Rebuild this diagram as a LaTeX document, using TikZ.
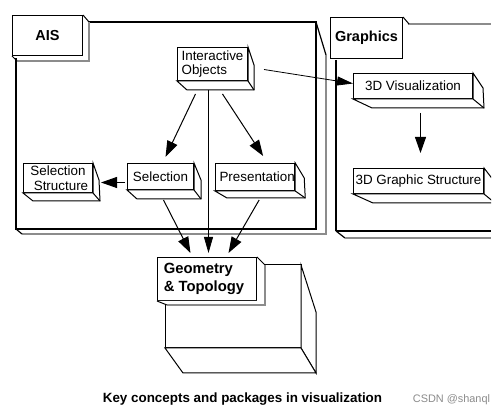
\documentclass[tikz,border=0pt]{standalone}
\usepackage{fontspec}
\setmainfont{Liberation Sans}
\usetikzlibrary{arrows.meta}
\tikzset{
  face/.style={draw, fill=white, line width=1pt, inner sep=0pt, anchor=north west,
    font=\fontsize{13.4}{14.5}\selectfont},
  tabface/.style={face, font=\bfseries\fontsize{14.5}{16}\selectfont},
  side/.style={draw, fill=white, line width=1pt, line join=miter},
  pk/.style={draw, line width=1.2pt},
  shade/.style={draw=black!45, line width=1.4pt},
  arr/.style={line width=1pt, -{Triangle[length=16pt,width=11pt]}},
  thinarr/.style={line width=0.8pt, -{Triangle[length=16pt,width=9pt]}},
}
% 3D sides of a box node: name, top dx, top dy, right dx, bottom dy, bottom-left dx
\newcommand\boxsides[6]{%
  \filldraw[side] (#1.north east) -- ++(#2,#3) -- ([shift={(#4,#5)}]#1.south east)
    -- ([shift={(#6,#5)}]#1.south west) -- (#1.south west) -- (#1.south east) -- cycle;
  \draw[line width=1pt] (#1.south east) -- ++(#4,#5);
}
\begin{document}
\begin{tikzpicture}[x=1pt,y=-1pt]
\useasboundingbox (0,0) rectangle (504,419);
\fill[white] (0,0) rectangle (504,419);

% ---------- AIS package ----------
\draw[pk] (88,22) -- (316,22) -- (316,229) -- (16,229) -- (16,58);
\draw[pk] (316,22) -- (326,55);
\draw[shade] (326,55) -- (326,234) -- (22,234);
\draw[pk] (16,229) -- (22,234);
\node[tabface, minimum width=70pt, minimum height=40pt] (ais) at (12,15) {AIS};
\draw[line width=1pt] (ais.north east) -- ++(6,7);
\draw[shade] ([shift={(6,7)}]ais.north east) -- ([shift={(6,5)}]ais.south east) -- ([shift={(5,5)}]ais.south west);
\draw[line width=1pt] (ais.south west) -- ++(5,5);

% ---------- Graphics package (cropped on the right) ----------
\begin{scope}
\clip (0,0) rectangle (491,419);
\draw[line width=2pt] (336,60) -- (336,231);
\draw[pk] (336,231) -- (491,231);
\draw[pk] (336,231) -- (345,238);
\draw[shade] (345,238) -- (491,238);
\draw[shade] (408,24) -- (491,24);
\node[tabface, minimum width=72pt, minimum height=41pt] (gfx) at (330,17) {Graphics};
\draw[line width=1pt] (gfx.north east) -- ++(6,7);

\node[face, minimum width=119pt, minimum height=25pt] (vis) at (353,73) {3D Visualization};
\boxsides{vis}{10}{15}{11}{9}{19}
\node[face, minimum width=130pt, minimum height=25pt] (gstr) at (353,168) {3D Graphic Structure};
\boxsides{gstr}{10}{13}{11}{9}{20}
\end{scope}

% ---------- AIS contents ----------
\node[face, minimum width=70pt, minimum height=33pt, align=left] (io) at (177,47) {Interactive\\Objects};
\boxsides{io}{6}{18}{6}{9}{10}
\node[face, minimum width=69pt, minimum height=29pt, align=center] (selS) at (23,163) {Selection\\\hspace*{6pt}Structure};
\boxsides{selS}{6}{17}{7}{8}{10}
\node[face, minimum width=66pt, minimum height=26pt] (sel) at (127,163) {Selection};
\boxsides{sel}{7}{17}{7}{9}{10}
\node[face, minimum width=78pt, minimum height=27pt] (pres) at (215,163) {\hspace*{4pt}Presentation};
\boxsides{pres}{9}{15}{10}{7}{12}

% ---------- Geometry & Topology ----------
\filldraw[side] (165,265) rectangle (301,348);
\filldraw[side] (301,265) -- (316,312) -- (316,373) -- (301,348) -- cycle;
\filldraw[side] (165,348) -- (301,348) -- (316,373) -- (183,373) -- cycle;
\node[face, font=\bfseries\fontsize{14.8}{18}\selectfont, minimum width=99pt, minimum height=43pt, align=left] (geo) at (157,257) {Geometry\\\& Topology\hspace*{6pt}};
\fill[white] (geo.north east) -- (265,265) -- (265,305) -- (167,305) -- (geo.south west) -- (geo.south east) -- cycle;
\draw[line width=1pt] (geo.north east) -- (265,265);
\draw[shade] (265,265) -- (265,305) -- (167,305);
\draw[line width=1pt] (geo.south west) -- (167,305);

% ---------- connectors ----------
\draw[arr] ([shift={(-17,13)}]io.south) -- ([shift={(5,-6)}]sel.north);
\draw[arr] ([shift={(10,13)}]io.south) -- ([shift={(8,-7)}]pres.north);
\path (io.south) ++(-4,0) coordinate (vtop);
\draw[thinarr] ([shift={(0,9)}]vtop) -- ([shift={(0,-4)}]vtop |- geo.north);
\draw[arr] ([shift={(3,10)}]sel.south) -- ([shift={(-16.5,-4)}]geo.north);
\draw[arr] ([shift={(4,9)}]pres.south) -- ([shift={(21.5,-4)}]geo.north);
\draw[arr] ([shift={(-2,6)}]sel.west) -- ([shift={(8,4.5)}]selS.east);
\draw[thinarr] ([shift={(16,5.5)}]io.east) -- ([shift={(0,-2.5)}]vis.west);
\path (vis.south) ++(7.5,0) coordinate (vbot);
\draw[arr] ([shift={(0,14)}]vbot) -- ([shift={(0,-15)}]vbot |- gstr.north);

% ---------- caption ----------
\node[font=\bfseries\fontsize{13.4}{16}\selectfont] (cap) at (242.5,399) {Key concepts and packages in visualization};
\node[font=\fontsize{10.9}{12}\selectfont, text=black!45] (wm) at (451.5,400) {CSDN @shanql};
\end{tikzpicture}
\end{document}
